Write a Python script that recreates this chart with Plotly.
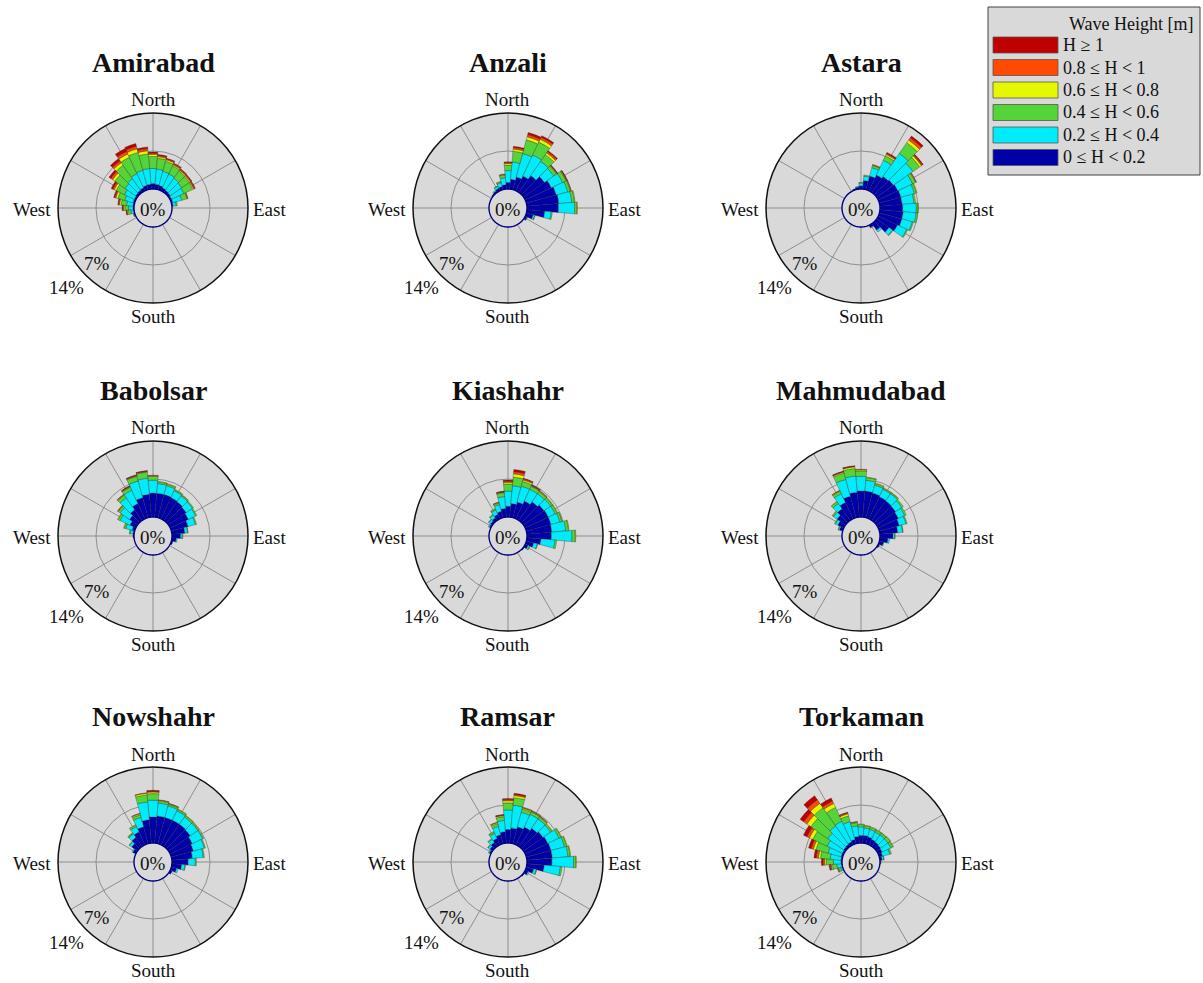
import plotly.graph_objects as go

FIG_W, FIG_H = 1203, 983
SERIF = "Liberation Serif, Times New Roman, serif"

# Sector centres in degrees, clockwise from north (36 sectors of 10 degrees)
DIRECTIONS = [0, 10, 20, 30, 40, 50, 60, 70, 80,
              90, 100, 110, 120, 130, 140, 150, 160, 170,
              180, 190, 200, 210, 220, 230, 240, 250, 260,
              270, 280, 290, 300, 310, 320, 330, 340, 350]

HEIGHT_CLASSES = ["0 ≤ H < 0.2", "0.2 ≤ H < 0.4", "0.4 ≤ H < 0.6",
                  "0.6 ≤ H < 0.8", "0.8 ≤ H < 1", "H ≥ 1"]
CLASS_COLORS = ["#0000a8", "#00ecfa", "#55d43a", "#e6f800", "#ff4a00", "#c00000"]

STATIONS = ["Amirabad", "Anzali", "Astara",
            "Babolsar", "Kiashahr", "Mahmudabad",
            "Nowshahr", "Ramsar", "Torkaman"]

RING_LABELS = ["0%", "7%", "14%"]
COMPASS = ["North", "East", "South", "West"]

# Frequency of occurrence (%) per direction sector and wave-height class
amirabad_h00_02 = [1.0, 0.9, 0.8, 0.6, 0.5, 0.4, 0.3, 0.3, 0.2,
                   0, 0, 0, 0, 0, 0, 0, 0, 0,
                   0, 0, 0, 0, 0, 0, 0, 0.1, 0.1,
                   0.2, 0.2, 0.3, 0.3, 0.4, 0.5, 0.6, 0.8, 0.9]
amirabad_h02_04 = [2.8, 2.8, 2.7, 2.8, 2.7, 2.6, 2.5, 1.7, 0.6,
                   0, 0, 0, 0, 0, 0, 0, 0, 0,
                   0, 0, 0, 0, 0, 0, 0, 0.1, 0.5,
                   0.8, 1.2, 1.6, 2.0, 2.4, 2.6, 2.9, 2.9, 2.9]
amirabad_h04_06 = [2.2, 2.0, 1.9, 1.7, 1.6, 1.7, 1.8, 1.0, 0.2,
                   0, 0, 0, 0, 0, 0, 0, 0, 0,
                   0, 0, 0, 0, 0, 0, 0, 0.1, 0.5,
                   0.7, 1.0, 1.3, 1.7, 2.3, 3.0, 3.3, 3.4, 2.7]
amirabad_h06_08 = [0.4, 0.3, 0.3, 0.2, 0.2, 0.2, 0.2, 0.1, 0,
                   0, 0, 0, 0, 0, 0, 0, 0, 0,
                   0, 0, 0, 0, 0, 0, 0, 0, 0.2,
                   0.2, 0.3, 0.4, 0.4, 0.5, 0.6, 0.7, 0.7, 0.6]
amirabad_h08_10 = [0.2, 0.2, 0.2, 0.2, 0.2, 0.2, 0.2, 0.1, 0,
                   0, 0, 0, 0, 0, 0, 0, 0, 0,
                   0, 0, 0, 0, 0, 0, 0, 0, 0.1,
                   0.2, 0.2, 0.2, 0.3, 0.4, 0.4, 0.5, 0.5, 0.4]
amirabad_h10_up = [0.2, 0.2, 0.1, 0.1, 0.1, 0.1, 0.1, 0, 0,
                   0, 0, 0, 0, 0, 0, 0, 0, 0,
                   0, 0, 0, 0, 0, 0, 0, 0, 0.1,
                   0.1, 0.1, 0.2, 0.3, 0.4, 0.5, 0.6, 0.5, 0.3]

anzali_h00_02 = [1.2, 1.8, 2.4, 3.0, 3.8, 4.7, 5.3, 5.7, 5.9,
                 5.8, 3.3, 1.3, 0.4, 0, 0, 0, 0, 0,
                 0, 0, 0, 0, 0, 0, 0, 0, 0,
                 0, 0, 0, 0, 0.2, 0.3, 0.5, 0.6, 0.8]
anzali_h02_04 = [2.2, 3.2, 4.5, 4.3, 3.2, 2.1, 2.3, 2.2, 2.4,
                 3.0, 1.2, 0.3, 0.1, 0, 0, 0, 0, 0,
                 0, 0, 0, 0, 0, 0, 0, 0, 0,
                 0, 0, 0, 0, 0, 0.2, 0.4, 0.7, 1.3]
anzali_h04_06 = [1.0, 2.0, 2.6, 2.6, 1.5, 0.6, 0.7, 0.5, 0.5,
                 0.4, 0.2, 0.1, 0, 0, 0, 0, 0, 0,
                 0, 0, 0, 0, 0, 0, 0, 0, 0,
                 0, 0, 0, 0, 0, 0, 0.1, 0.2, 0.5]
anzali_h06_08 = [0.3, 0.4, 0.6, 0.6, 0.4, 0.1, 0.1, 0.1, 0.1,
                 0.1, 0, 0, 0, 0, 0, 0, 0, 0,
                 0, 0, 0, 0, 0, 0, 0, 0, 0,
                 0, 0, 0, 0, 0, 0, 0, 0.1, 0.1]
anzali_h08_10 = [0.2, 0.3, 0.4, 0.4, 0.3, 0.1, 0.1, 0.1, 0,
                 0, 0, 0, 0, 0, 0, 0, 0, 0,
                 0, 0, 0, 0, 0, 0, 0, 0, 0,
                 0, 0, 0, 0, 0, 0, 0, 0, 0.1]
anzali_h10_up = [0.1, 0.2, 0.4, 0.3, 0.2, 0.1, 0.1, 0, 0,
                 0, 0, 0, 0, 0, 0, 0, 0, 0,
                 0, 0, 0, 0, 0, 0, 0, 0, 0,
                 0, 0, 0, 0, 0, 0, 0, 0, 0]

astara_h00_02 = [0.6, 1.6, 2.6, 3.2, 3.6, 3.8, 4.0, 4.1, 4.1,
                 4.2, 4.3, 4.3, 3.9, 2.8, 1.5, 0.5, 0, 0,
                 0, 0, 0, 0, 0, 0, 0, 0, 0,
                 0, 0, 0, 0, 0, 0, 0, 0.2, 0.4]
astara_h02_04 = [0.5, 0.8, 1.6, 3.0, 5.2, 4.4, 3.0, 2.6, 2.2,
                 2.5, 2.4, 2.0, 1.9, 0.8, 0.4, 0.1, 0, 0,
                 0, 0, 0, 0, 0, 0, 0, 0, 0,
                 0, 0, 0, 0, 0, 0, 0, 0, 0.1]
astara_h04_06 = [0.1, 0.2, 0.4, 0.9, 2.4, 1.5, 0.6, 0.4, 0.3,
                 0.3, 0.3, 0.2, 0.2, 0.1, 0, 0, 0, 0,
                 0, 0, 0, 0, 0, 0, 0, 0, 0,
                 0, 0, 0, 0, 0, 0, 0, 0, 0]
astara_h06_08 = [0, 0, 0.1, 0.3, 0.6, 0.4, 0.1, 0.1, 0,
                 0.1, 0, 0, 0, 0, 0, 0, 0, 0,
                 0, 0, 0, 0, 0, 0, 0, 0, 0,
                 0, 0, 0, 0, 0, 0, 0, 0, 0]
astara_h08_10 = [0, 0, 0.1, 0.2, 0.5, 0.2, 0.1, 0, 0,
                 0, 0, 0, 0, 0, 0, 0, 0, 0,
                 0, 0, 0, 0, 0, 0, 0, 0, 0,
                 0, 0, 0, 0, 0, 0, 0, 0, 0]
astara_h10_up = [0, 0, 0, 0.2, 0.4, 0.2, 0, 0, 0,
                 0, 0, 0, 0, 0, 0, 0, 0, 0,
                 0, 0, 0, 0, 0, 0, 0, 0, 0,
                 0, 0, 0, 0, 0, 0, 0, 0, 0]

babolsar_h00_02 = [4.4, 4.4, 4.4, 4.3, 4.2, 4.0, 3.7, 3.2, 2.4,
                   1.6, 0.8, 0.3, 0, 0, 0, 0, 0, 0,
                   0, 0, 0, 0, 0, 0, 0, 0, 0,
                   0.2, 0.2, 0.5, 1.2, 1.8, 2.4, 3.1, 3.8, 4.2]
babolsar_h02_04 = [2.4, 1.8, 1.7, 1.4, 1.3, 1.4, 1.5, 1.4, 0.5,
                   0.3, 0.2, 0, 0, 0, 0, 0, 0, 0,
                   0, 0, 0, 0, 0, 0, 0, 0, 0,
                   0, 0.5, 1.2, 2.0, 2.1, 2.7, 2.7, 3.2, 3.0]
babolsar_h04_06 = [0.7, 0.3, 0.3, 0.2, 0.2, 0.2, 0.2, 0.2, 0.1,
                   0.1, 0, 0, 0, 0, 0, 0, 0, 0,
                   0, 0, 0, 0, 0, 0, 0, 0, 0,
                   0, 0.2, 0.3, 0.4, 0.4, 0.6, 0.6, 0.9, 1.1]
babolsar_h06_08 = [0.1, 0.1, 0.1, 0.1, 0.1, 0, 0, 0, 0,
                   0, 0, 0, 0, 0, 0, 0, 0, 0,
                   0, 0, 0, 0, 0, 0, 0, 0, 0,
                   0, 0, 0.1, 0.1, 0.1, 0.1, 0.1, 0.1, 0.1]
babolsar_h08_10 = [0.1, 0, 0, 0, 0, 0, 0, 0, 0,
                   0, 0, 0, 0, 0, 0, 0, 0, 0,
                   0, 0, 0, 0, 0, 0, 0, 0, 0,
                   0, 0, 0, 0, 0.1, 0.1, 0.1, 0.1, 0.1]
babolsar_h10_up = [0, 0, 0, 0, 0, 0, 0, 0, 0,
                   0, 0, 0, 0, 0, 0, 0, 0, 0,
                   0, 0, 0, 0, 0, 0, 0, 0, 0,
                   0, 0, 0, 0, 0, 0, 0.1, 0.1, 0.1]

kiashahr_h00_02 = [2.0, 2.5, 3.0, 3.6, 4.2, 4.6, 4.7, 4.7, 4.6,
                   4.5, 2.6, 1.4, 0.6, 0.2, 0, 0, 0, 0,
                   0, 0, 0, 0, 0, 0, 0, 0, 0,
                   0, 0, 0, 0.3, 0.4, 0.6, 0.9, 1.2, 1.6]
kiashahr_h02_04 = [2.8, 3.3, 3.0, 2.4, 1.8, 1.5, 1.4, 1.7, 2.6,
                   3.8, 2.6, 0.7, 0.3, 0, 0, 0, 0, 0,
                   0, 0, 0, 0, 0, 0, 0, 0, 0,
                   0, 0, 0, 0.2, 0.4, 0.6, 0.9, 1.3, 2.2]
kiashahr_h04_06 = [1.3, 1.6, 0.9, 0.6, 0.5, 0.4, 0.4, 0.4, 0.5,
                   0.6, 0.3, 0.1, 0.1, 0, 0, 0, 0, 0,
                   0, 0, 0, 0, 0, 0, 0, 0, 0,
                   0, 0, 0, 0, 0.1, 0.2, 0.2, 0.3, 0.7]
kiashahr_h06_08 = [0.3, 0.6, 0.3, 0.1, 0.1, 0.1, 0.1, 0.1, 0.1,
                   0.1, 0, 0, 0, 0, 0, 0, 0, 0,
                   0, 0, 0, 0, 0, 0, 0, 0, 0,
                   0, 0, 0, 0, 0, 0, 0.1, 0.1, 0.1]
kiashahr_h08_10 = [0.2, 0.4, 0.2, 0.1, 0.1, 0, 0, 0, 0,
                   0, 0, 0, 0, 0, 0, 0, 0, 0,
                   0, 0, 0, 0, 0, 0, 0, 0, 0,
                   0, 0, 0, 0, 0, 0, 0, 0.1, 0.1]
kiashahr_h10_up = [0.2, 0.4, 0.1, 0.1, 0, 0, 0, 0, 0,
                   0, 0, 0, 0, 0, 0, 0, 0, 0,
                   0, 0, 0, 0, 0, 0, 0, 0, 0,
                   0, 0, 0, 0, 0, 0, 0, 0, 0.1]

mahmudabad_h00_02 = [4.8, 4.8, 4.7, 4.5, 4.4, 4.3, 4.1, 3.8, 3.3,
                     2.4, 1.5, 0.8, 0.3, 0, 0, 0, 0, 0,
                     0, 0, 0, 0, 0, 0, 0, 0, 0,
                     0, 0, 0.6, 1.2, 1.9, 2.6, 3.3, 4.1, 4.6]
mahmudabad_h02_04 = [2.7, 2.0, 1.5, 1.5, 1.6, 1.4, 1.3, 1.3, 0.9,
                     0.3, 0.3, 0.1, 0, 0, 0, 0, 0, 0,
                     0, 0, 0, 0, 0, 0, 0, 0, 0,
                     0, 0, 0.2, 0.5, 0.8, 1.2, 1.8, 3.2, 3.0]
mahmudabad_h04_06 = [1.0, 0.5, 0.3, 0.2, 0.2, 0.3, 0.3, 0.2, 0.1,
                     0.1, 0, 0, 0, 0, 0, 0, 0, 0,
                     0, 0, 0, 0, 0, 0, 0, 0, 0,
                     0, 0, 0.1, 0.2, 0.2, 0.4, 0.5, 1.2, 1.4]
mahmudabad_h06_08 = [0.2, 0.1, 0.1, 0.1, 0.1, 0, 0, 0, 0,
                     0, 0, 0, 0, 0, 0, 0, 0, 0,
                     0, 0, 0, 0, 0, 0, 0, 0, 0,
                     0, 0, 0, 0, 0.1, 0.1, 0.1, 0.2, 0.3]
mahmudabad_h08_10 = [0.1, 0, 0, 0, 0, 0, 0, 0, 0,
                     0, 0, 0, 0, 0, 0, 0, 0, 0,
                     0, 0, 0, 0, 0, 0, 0, 0, 0,
                     0, 0, 0, 0, 0, 0, 0.1, 0.1, 0.1]
mahmudabad_h10_up = [0, 0, 0, 0, 0, 0, 0, 0, 0,
                     0, 0, 0, 0, 0, 0, 0, 0, 0,
                     0, 0, 0, 0, 0, 0, 0, 0, 0,
                     0, 0, 0, 0, 0, 0, 0, 0.1, 0.1]

nowshahr_h00_02 = [4.8, 5.0, 5.0, 5.0, 5.0, 4.9, 4.5, 4.2, 3.8,
                   3.0, 1.8, 1.0, 0.4, 0, 0, 0, 0, 0,
                   0, 0, 0, 0, 0, 0, 0, 0, 0,
                   0, 0, 0, 0.6, 1.3, 2.0, 2.6, 3.2, 4.3]
nowshahr_h02_04 = [3.1, 2.4, 2.2, 1.9, 1.6, 1.7, 2.1, 2.1, 2.0,
                   1.3, 0.6, 0.3, 0, 0, 0, 0, 0, 0,
                   0, 0, 0, 0, 0, 0, 0, 0, 0,
                   0, 0, 0, 0.2, 0.5, 0.8, 1.1, 1.8, 3.3]
nowshahr_h04_06 = [1.2, 0.4, 0.3, 0.3, 0.3, 0.2, 0.2, 0.2, 0.2,
                   0.2, 0.1, 0, 0, 0, 0, 0, 0, 0,
                   0, 0, 0, 0, 0, 0, 0, 0, 0,
                   0, 0, 0, 0, 0.1, 0.2, 0.3, 0.5, 1.3]
nowshahr_h06_08 = [0.3, 0.1, 0.1, 0.1, 0.1, 0.1, 0, 0, 0,
                   0, 0, 0, 0, 0, 0, 0, 0, 0,
                   0, 0, 0, 0, 0, 0, 0, 0, 0,
                   0, 0, 0, 0, 0, 0.1, 0.1, 0.2, 0.3]
nowshahr_h08_10 = [0.1, 0.1, 0.1, 0, 0, 0, 0, 0, 0,
                   0, 0, 0, 0, 0, 0, 0, 0, 0,
                   0, 0, 0, 0, 0, 0, 0, 0, 0,
                   0, 0, 0, 0, 0, 0, 0, 0.1, 0.1]
nowshahr_h10_up = [0.2, 0, 0, 0, 0, 0, 0, 0, 0,
                   0, 0, 0, 0, 0, 0, 0, 0, 0,
                   0, 0, 0, 0, 0, 0, 0, 0, 0,
                   0, 0, 0, 0, 0, 0, 0, 0, 0]

ramsar_h00_02 = [2.5, 2.8, 3.2, 3.6, 4.1, 4.4, 4.6, 4.7, 4.7,
                 4.6, 3.2, 1.4, 0.6, 0.2, 0, 0, 0, 0,
                 0, 0, 0, 0, 0, 0, 0, 0, 0,
                 0, 0, 0, 0.3, 0.6, 0.9, 1.3, 1.7, 2.1]
ramsar_h02_04 = [3.6, 4.2, 2.8, 2.6, 2.1, 1.7, 2.3, 2.6, 2.9,
                 4.0, 3.0, 0.5, 0.2, 0, 0, 0, 0, 0,
                 0, 0, 0, 0, 0, 0, 0, 0, 0,
                 0, 0, 0, 0.2, 0.4, 0.7, 1.0, 1.6, 2.1]
ramsar_h04_06 = [1.3, 1.4, 0.6, 0.5, 0.4, 0.3, 0.4, 0.4, 0.4,
                 0.4, 0.3, 0.1, 0, 0, 0, 0, 0, 0,
                 0, 0, 0, 0, 0, 0, 0, 0, 0,
                 0, 0, 0, 0, 0.1, 0.2, 0.3, 0.5, 0.7]
ramsar_h06_08 = [0.4, 0.4, 0.2, 0.1, 0.1, 0.1, 0.1, 0.1, 0.1,
                 0.1, 0, 0, 0, 0, 0, 0, 0, 0,
                 0, 0, 0, 0, 0, 0, 0, 0, 0,
                 0, 0, 0, 0, 0, 0, 0.1, 0.2, 0.2]
ramsar_h08_10 = [0.2, 0.2, 0.1, 0.1, 0.1, 0, 0, 0, 0,
                 0, 0, 0, 0, 0, 0, 0, 0, 0,
                 0, 0, 0, 0, 0, 0, 0, 0, 0,
                 0, 0, 0, 0, 0, 0, 0, 0.1, 0.1]
ramsar_h10_up = [0.2, 0.2, 0, 0, 0, 0, 0, 0, 0,
                 0, 0, 0, 0, 0, 0, 0, 0, 0,
                 0, 0, 0, 0, 0, 0, 0, 0, 0,
                 0, 0, 0, 0, 0, 0, 0, 0, 0.1]

torkaman_h00_02 = [1.4, 1.4, 1.3, 1.1, 1.0, 0.9, 0.8, 0.6, 0.4,
                   0.1, 0, 0, 0, 0, 0, 0, 0, 0,
                   0, 0, 0, 0, 0, 0, 0, 0.1, 0.1,
                   0.2, 0.2, 0.3, 0.3, 0.4, 0.5, 0.6, 0.8, 1.2]
torkaman_h02_04 = [1.6, 1.4, 1.4, 1.5, 1.6, 1.7, 1.8, 1.4, 0.3,
                   0.1, 0, 0, 0, 0, 0, 0, 0, 0,
                   0, 0, 0, 0, 0, 0, 0, 0.3, 0.9,
                   1.4, 2.0, 2.5, 3.1, 3.6, 4.1, 4.2, 3.4, 2.0]
torkaman_h04_06 = [0.4, 0.4, 0.4, 0.4, 0.4, 0.5, 0.4, 0.3, 0.1,
                   0, 0, 0, 0, 0, 0, 0, 0, 0,
                   0, 0, 0, 0, 0, 0, 0, 0.4, 0.8,
                   1.3, 1.8, 2.3, 2.9, 3.8, 4.1, 2.8, 1.1, 0.6]
torkaman_h06_08 = [0.1, 0.1, 0.1, 0.1, 0.1, 0.1, 0.1, 0, 0,
                   0, 0, 0, 0, 0, 0, 0, 0, 0,
                   0, 0, 0, 0, 0, 0, 0, 0.1, 0.2,
                   0.3, 0.4, 0.5, 0.7, 0.9, 1.0, 0.8, 0.4, 0.1]
torkaman_h08_10 = [0, 0, 0, 0, 0, 0, 0, 0, 0,
                   0, 0, 0, 0, 0, 0, 0, 0, 0,
                   0, 0, 0, 0, 0, 0, 0, 0.1, 0.2,
                   0.3, 0.4, 0.4, 0.5, 0.7, 0.8, 0.5, 0.2, 0.1]
torkaman_h10_up = [0, 0, 0, 0, 0, 0, 0, 0, 0,
                   0, 0, 0, 0, 0, 0, 0, 0, 0,
                   0, 0, 0, 0, 0, 0, 0, 0, 0.2,
                   0.3, 0.4, 0.5, 0.7, 0.8, 0.9, 0.6, 0.1, 0]

STATION_CLASSES = {
    "Amirabad": [amirabad_h00_02, amirabad_h02_04, amirabad_h04_06,
                 amirabad_h06_08, amirabad_h08_10, amirabad_h10_up],
    "Anzali": [anzali_h00_02, anzali_h02_04, anzali_h04_06,
               anzali_h06_08, anzali_h08_10, anzali_h10_up],
    "Astara": [astara_h00_02, astara_h02_04, astara_h04_06,
               astara_h06_08, astara_h08_10, astara_h10_up],
    "Babolsar": [babolsar_h00_02, babolsar_h02_04, babolsar_h04_06,
                 babolsar_h06_08, babolsar_h08_10, babolsar_h10_up],
    "Kiashahr": [kiashahr_h00_02, kiashahr_h02_04, kiashahr_h04_06,
                 kiashahr_h06_08, kiashahr_h08_10, kiashahr_h10_up],
    "Mahmudabad": [mahmudabad_h00_02, mahmudabad_h02_04, mahmudabad_h04_06,
                   mahmudabad_h06_08, mahmudabad_h08_10, mahmudabad_h10_up],
    "Nowshahr": [nowshahr_h00_02, nowshahr_h02_04, nowshahr_h04_06,
                 nowshahr_h06_08, nowshahr_h08_10, nowshahr_h10_up],
    "Ramsar": [ramsar_h00_02, ramsar_h02_04, ramsar_h04_06,
               ramsar_h06_08, ramsar_h08_10, ramsar_h10_up],
    "Torkaman": [torkaman_h00_02, torkaman_h02_04, torkaman_h04_06,
                 torkaman_h06_08, torkaman_h08_10, torkaman_h10_up],
}
for _name, _classes in STATION_CLASSES.items():
    for _vals in _classes:
        assert len(_vals) == len(DIRECTIONS), _name

# Pixel layout of the 3x3 grid of roses
COL_X = [153, 508, 861]
ROW_Y = [208, 536, 862]
ROSE_R = 95
R_MAX = 14.0
R_HUB = -3.5          # centre of the rose sits 3.5 % below the 0 % ring
BG_GRAY = "#d9d9d9"
GRID_GRAY = "#8e8e8e"


def px(x):
    return x / FIG_W


def py(y):
    return 1 - y / FIG_H


fig = go.Figure()
annotations = []
shapes = []
layout_polars = {}

hub_theta = list(range(0, 361, 3))

for i, station in enumerate(STATIONS):
    cx, cy = COL_X[i % 3], ROW_Y[i // 3]
    key = "polar" if i == 0 else f"polar{i + 1}"

    for vals, label, color in zip(STATION_CLASSES[station], HEIGHT_CLASSES, CLASS_COLORS):
        fig.add_trace(go.Barpolar(
            r=vals, theta=DIRECTIONS, width=10, name=label,
            marker=dict(color=color, line=dict(color="rgba(40,40,40,0.55)", width=0.6)),
            subplot=key, showlegend=False,
        ))

    # central 0 % disc
    fig.add_trace(go.Scatterpolar(
        r=[0] * len(hub_theta), theta=hub_theta, mode="lines", fill="toself",
        fillcolor=BG_GRAY, line=dict(color="#000080", width=1.4),
        subplot=key, showlegend=False, hoverinfo="skip",
    ))

    layout_polars[key] = dict(
        domain=dict(x=[px(cx - ROSE_R), px(cx + ROSE_R)],
                    y=[py(cy + ROSE_R), py(cy - ROSE_R)]),
        bgcolor=BG_GRAY,
        barmode="stack",
        angularaxis=dict(rotation=90, direction="clockwise",
                         tickmode="array", tickvals=list(range(0, 360, 30)),
                         showticklabels=False, ticks="",
                         showgrid=True, gridcolor=GRID_GRAY, gridwidth=1,
                         showline=True, linecolor="#111111", linewidth=1.5),
        radialaxis=dict(range=[R_HUB, R_MAX], tickmode="array", tickvals=[7],
                        showticklabels=False, ticks="", showline=False,
                        showgrid=True, gridcolor=GRID_GRAY, gridwidth=1),
    )

    def note(text, x, y, size=19, xanchor="center", yanchor="middle"):
        annotations.append(dict(
            text=text, x=px(x), y=py(y), xref="paper", yref="paper",
            showarrow=False, xanchor=xanchor, yanchor=yanchor,
            font=dict(family=SERIF, size=size, color="#111111"),
        ))

    note(f"<b>{station}</b>", cx, cy - 146, size=28)
    note(COMPASS[0], cx, cy - 108)
    note(COMPASS[2], cx, cy + 108)
    note(COMPASS[3], cx - 100, cy + 1, xanchor="right")
    note(COMPASS[1], cx + 98, cy + 1, xanchor="left")
    note(RING_LABELS[0], cx, cy + 1)
    note(RING_LABELS[1], cx - 56, cy + 55)
    note(RING_LABELS[2], cx - 87, cy + 80)

# Legend box
shapes.append(dict(type="rect", xref="paper", yref="paper",
                   x0=px(988), x1=px(1200), y0=py(175), y1=py(7),
                   fillcolor=BG_GRAY, line=dict(color="#404040", width=1)))
annotations.append(dict(text="Wave Height [m]", x=px(1196), y=py(24),
                        xref="paper", yref="paper", showarrow=False,
                        xanchor="right", yanchor="middle",
                        font=dict(family=SERIF, size=18, color="#111111")))
row_y = [45, 67.5, 90, 112.5, 135, 157.5]
for k, (label, color) in enumerate(zip(HEIGHT_CLASSES[::-1], CLASS_COLORS[::-1])):
    yc = row_y[k]
    shapes.append(dict(type="rect", xref="paper", yref="paper",
                       x0=px(993), x1=px(1058), y0=py(yc + 8), y1=py(yc - 8),
                       fillcolor=color, line=dict(color="#555555", width=0.8)))
    annotations.append(dict(text=label, x=px(1061), y=py(yc),
                            xref="paper", yref="paper", showarrow=False,
                            xanchor="left", yanchor="middle",
                            font=dict(family=SERIF, size=18, color="#111111")))

fig.update_layout(
    width=FIG_W, height=FIG_H,
    margin=dict(l=0, r=0, t=0, b=0),
    paper_bgcolor="white", plot_bgcolor="white",
    showlegend=False,
    annotations=annotations, shapes=shapes,
    **layout_polars,
)

fig.write_html("out.html")
